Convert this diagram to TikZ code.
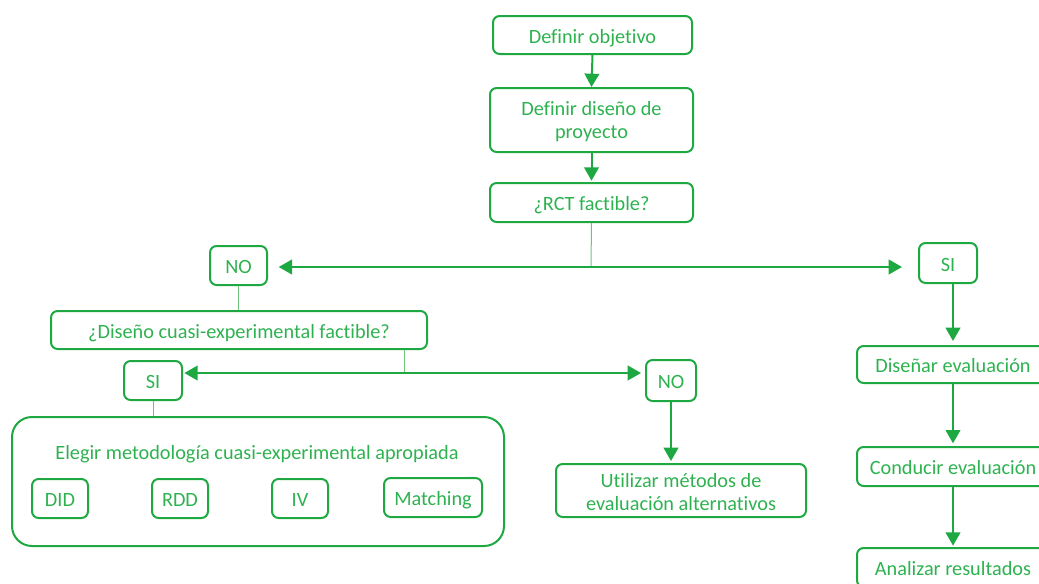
\documentclass[tikz,border=0pt]{standalone}
\usepackage{fontspec}
\setmainfont{Carlito}[Ligatures=NoCommon]
\usetikzlibrary{arrows.meta}
\definecolor{gline}{RGB}{30,168,66}
\definecolor{gtext}{RGB}{46,178,80}
\definecolor{gthin}{RGB}{110,196,120}
\tikzset{
  x=0.75pt, y=-0.75pt,
  box/.style={draw=gline, line width=1.5pt, rounded corners=5pt, text=gtext,
    font=\fontsize{15.2}{17}\selectfont, align=center, inner sep=0pt,
    text height=13.5pt, text depth=0.8pt},
  twoline/.style={text height=#1, text depth=1pt},
  bigbox/.style={draw=gline, line width=1.5pt, rounded corners=15pt, inner sep=0pt},
  lbl/.style={text=gtext, font=\fontsize{15.2}{17}\selectfont, inner sep=0pt,
    text height=10pt, text depth=1pt},
  arr/.style={draw=gline, line width=1.5pt, -{Triangle[length=10pt,width=11pt]}},
  darr/.style={draw=gline, line width=1.5pt, {Triangle[length=10pt,width=11pt]}-{Triangle[length=10pt,width=11pt]}},
  thin/.style={draw=gthin, line width=0.75pt},
}
\begin{document}
\begin{tikzpicture}
\useasboundingbox (0,0) rectangle (1039,583);
\clip (0,0) rectangle (1039,583);
% top chain
\node[box, minimum width=199*0.75pt, minimum height=38*0.75pt] (obj) at (592.5,35) {Definir objetivo};
\node[box, twoline=28pt, minimum width=203*0.75pt, minimum height=64*0.75pt] (dis) at (591.5,120) {Definir diseño de\\proyecto};
\node[box, minimum width=203*0.75pt, minimum height=39*0.75pt] (rct) at (591.5,202.5) {¿RCT factible?};
% first decision
\node[box, minimum width=57*0.75pt, minimum height=39*0.75pt] (no1) at (238.5,265.5) {NO};
\node[box, minimum width=58*0.75pt, minimum height=40*0.75pt] (si1) at (948,263) {SI};
\coordinate (j1) at (591,267);
% left branch
\node[box, minimum width=376*0.75pt, minimum height=38*0.75pt] (cuasi) at (239,330) {¿Diseño cuasi-experimental factible?};
\node[box, minimum width=58*0.75pt, minimum height=39*0.75pt] (si2) at (153,380.5) {SI};
\node[box, minimum width=50*0.75pt, minimum height=41*0.75pt] (no2) at (671,380.5) {NO};
\coordinate (j2) at (404,373);
\node[bigbox, minimum width=492*0.75pt, minimum height=129*0.75pt] (big) at (258,481.5) {};
\node[lbl] (bigt) at (257,453) {Elegir metodología cuasi-experimental apropiada};
\node[box, minimum width=56*0.75pt, minimum height=39*0.75pt] (did) at (60,498.5) {DID};
\node[box, minimum width=56*0.75pt, minimum height=39*0.75pt] (rdd) at (180,498.5) {RDD};
\node[box, minimum width=56*0.75pt, minimum height=39*0.75pt] (iv) at (300,498.5) {IV};
\node[box, minimum width=98*0.75pt, minimum height=39*0.75pt] (mat) at (433,497.5) {Matching};
\node[box, twoline=30.5pt, minimum width=250*0.75pt, minimum height=53*0.75pt] (util) at (681,490.5) {Utilizar métodos de\\evaluación alternativos};
% right branch
\node[box, minimum width=192*0.75pt, minimum height=37*0.75pt] (deval) at (953,364.5) {Diseñar evaluación};
\node[box, minimum width=192*0.75pt, minimum height=39*0.75pt] (cond) at (953,466.5) {Conducir evaluación};
\node[box, minimum width=192*0.75pt, minimum height=39*0.75pt] (anal) at (953,567.5) {Analizar resultados};
% connectors
\draw[arr] (obj.south) -- (dis.north);
\draw[arr, shorten >=1pt] (dis.south) -- (rct.north);
\draw[thin] (rct.south) -- (j1);
\draw[darr, shorten <=8pt, shorten >=12pt] (no1.east |- j1) -- (si1.west |- j1);
\draw[thin] (no1.south) -- (cuasi.north -| no1.south);
\draw[thin] (cuasi.south -| j2) -- (j2);
\draw[darr, shorten <=1pt, shorten >=3pt] (si2.east |- j2) -- (no2.west |- j2);
\draw[thin] (si2.south) -- (big.north -| si2.south);
\draw[arr, shorten >=1.5pt] (no2.south) -- (util.north -| no2.south);
\draw[arr, shorten >=3pt] (si1.south -| deval.north) -- (deval.north);
\draw[arr, shorten >=2pt] (deval.south) -- (cond.north);
\draw[arr, shorten >=1pt] (cond.south) -- (anal.north);
\end{tikzpicture}
\end{document}
